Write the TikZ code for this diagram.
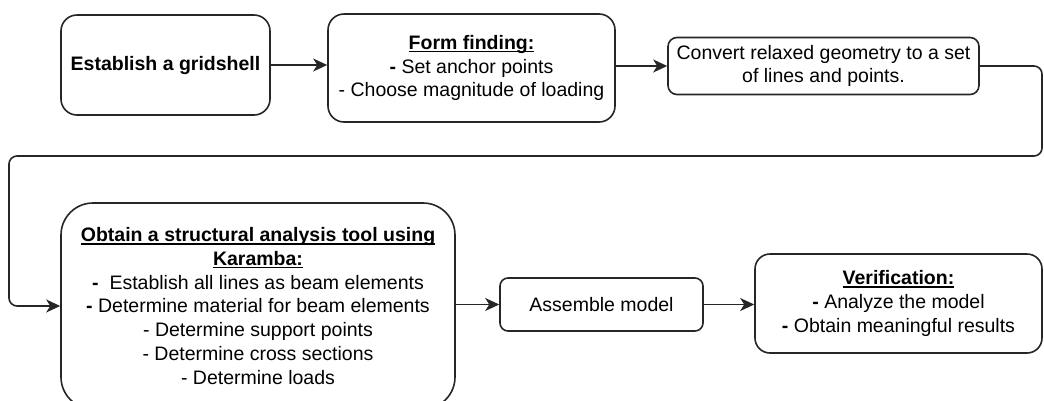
\documentclass[tikz,border=0pt]{standalone}
\usepackage{fontspec}
\setmainfont{Liberation Sans}
\usetikzlibrary{arrows.meta}
\newsavebox\ulsavebox
\newcommand\myul[1]{\sbox\ulsavebox{#1}\rlap{\rule[-3pt]{\wd\ulsavebox}{1.3pt}}\usebox\ulsavebox}
\newcommand\ctrrow[1]{\hbox to 390pt{\hfil#1\hfil}}
\begin{document}
\begin{tikzpicture}[x=1pt,y=-1pt,
 box/.style={draw=black!85, line width=1.6pt, align=center, font=\fontsize{19.5}{23.8}\selectfont, inner sep=0pt},
 txt/.style={font=\fontsize{19.5}{23.8}\selectfont, inner sep=0pt},
 arr/.style={draw=black!85, line width=1.6pt, -{Stealth[length=14pt,width=13pt,inset=4pt]}}]
\useasboundingbox (0,0) rectangle (1044,400);
\node[box, rounded corners=16pt, minimum width=209pt, minimum height=100pt] (b1) at (165.5,65) {\textbf{Establish a gridshell}};
\node[box, rounded corners=16pt, minimum width=287pt, minimum height=108pt] (b2) at (471.5,68) {\myul{\textbf{Form finding:}}\\\textbf{-} Set anchor points\\- Choose magnitude of loading};
\node[box, rounded corners=9pt, minimum width=311pt, minimum height=57pt] (b3) at (823.5,66) {Convert relaxed geometry to a set\\of lines and points.};
\node[box, rounded corners=32pt, minimum width=394pt, minimum height=206pt] (b4) at (258,306) {\vbox{\ctrrow{\myul{\textbf{Obtain a structural analysis tool using}}}\ctrrow{\phantom{\textbf{Karamba:}}}\ctrrow{\textbf{-}~~Establish all lines as beam elements}\ctrrow{\textbf{-} Determine material for beam elements}\ctrrow{- Determine support points}\ctrrow{- Determine cross sections}\ctrrow{- Determine loads}}};
\coordinate (k4pos) at (258,265);
\node[txt, anchor=base] (k4) at (k4pos) {\myul{\textbf{Karamba:}}};
\node[box, rounded corners=8pt, minimum width=203pt, minimum height=53pt] (b5) at (601.5,304.5) {Assemble model};
\node[box, rounded corners=15pt, minimum width=287pt, minimum height=99pt] (b6) at (898.5,303.5) {\myul{\textbf{Verification:}}\\\textbf{-} Analyze the model\\\textbf{-} Obtain meaningful results};
\coordinate (cR) at (1042,156);
\coordinate (cL) at (9,156);
\draw[arr] (b1) -- (b2.west |- b1);
\draw[arr] (b2.east |- b3) -- (b3);
\draw[arr, rounded corners=8pt] (b3.east) -| (cR) -- (cL) |- (b4.west);
\draw[arr] (b4.east |- b5) -- (b5);
\draw[arr] (b5) -- (b6.west |- b5);
\end{tikzpicture}
\end{document}
